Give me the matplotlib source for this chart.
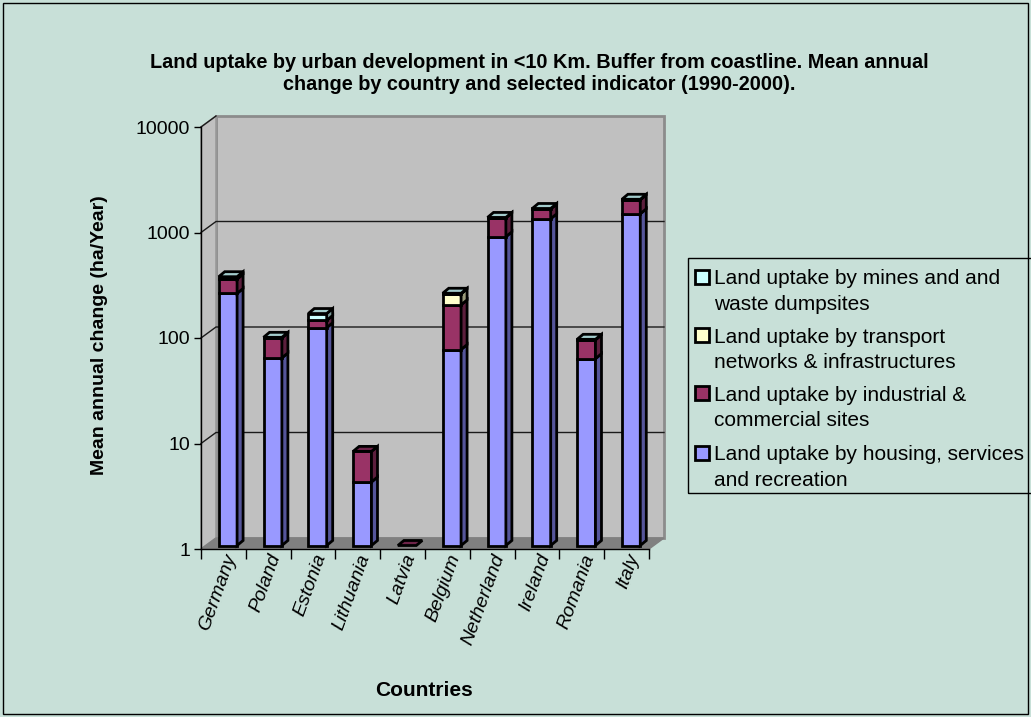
import numpy as np
import matplotlib
matplotlib.use("Agg")
import matplotlib.pyplot as plt
from matplotlib.patches import Polygon, Rectangle
from matplotlib.transforms import IdentityTransform

plt.rcParams['font.family'] = ['Liberation Sans', 'DejaVu Sans']

countries = ["Germany", "Poland", "Estonia", "Lithuania", "Latvia",
             "Belgium", "Netherland", "Ireland", "Romania", "Italy"]
housing = [245, 60, 116, 4, 0, 72, 844, 1250, 59, 1393]
industrial = [90, 33, 20, 3.8, 1, 119, 433, 300, 30, 500]
transport = [0, 0, 0, 0, 0, 52, 0, 0, 0, 0]
mines = [18, 1, 22, 0, 0, 3, 10, 15, 1, 20]

series_lines = [["Land uptake by housing, services", "and recreation"],
                ["Land uptake by industrial &", "commercial sites"],
                ["Land uptake by transport", "networks & infrastructures"],
                ["Land uptake by mines and and", "waste dumpsites"]]
face_cols = ['#9999FF', '#993366', '#FFFFCC', '#CCFFFF']
side_cols = ['#55559A', '#5C1F3D', '#9A9A7A', '#7A9A9A']
top_cols = ['#7A7ACC', '#6E2449', '#CCCCA3', '#A3CCCC']

y_ticks = [1, 10, 100, 1000, 10000]
y_labels = ["1", "10", "100", "1000", "10000"]

W, H = 1031, 717
BG = '#C8E0D8'
fig = plt.figure(figsize=(W / 100, H / 100), dpi=100, facecolor=BG)

# front plane of the plot area (pixels from top-left)
x0, x1 = 201, 649
yb, yt = 549, 127
ax = fig.add_axes([x0 / W, 1 - yb / H, (x1 - x0) / W, (yb - yt) / H])
ax.set_facecolor('none')
ax.set_yscale('log')
ax.set_ylim(1, 10000)
ax.set_xlim(0, len(countries))

# depth of the walls and of the bars (display pixels, y up)
wall_d = np.array([15.0, 11.0])
bar_shift = np.array([4.5, 3.5])
bar_d = np.array([6.0, 5.0])
bar_w = 0.41
edge_lw = 2.0

ident = IdentityTransform()


def disp(x, y):
    return ax.transData.transform((x, y))


def poly(pts, fc, ec, lw, z):
    ax.add_patch(Polygon(pts, closed=True, facecolor=fc, edgecolor=ec,
                         linewidth=lw, transform=ident, clip_on=False,
                         zorder=z, joinstyle='miter'))


n = len(countries)
# back wall
bl = disp(0, 1) + wall_d
br = disp(n, 1) + wall_d
tl = disp(0, 10000) + wall_d
tr = disp(n, 10000) + wall_d
poly([bl, br, tr, tl], '#C0C0C0', '#8C8C8C', 2.0, 0.5)
# left wall
fl = disp(0, 1)
ftl = disp(0, 10000)
poly([fl, bl, tl, ftl], '#C0C0C0', '#9A9A9A', 1.2, 0.6)
# floor
fr = disp(n, 1)
poly([fl, fr, br, bl], '#808080', '#808080', 1.0, 0.7)

# gridlines on the back wall and diagonals on the left wall
for v in y_ticks[1:-1]:
    a = disp(0, v)
    b = a + wall_d
    c = disp(n, v) + wall_d
    ax.add_line(plt.Line2D([a[0], b[0], c[0]], [a[1], b[1], c[1]],
                           color='#1A1A1A', lw=1.0, transform=ident,
                           clip_on=False, zorder=0.8))
a = disp(0, 10000)
ax.add_line(plt.Line2D([a[0], a[0] + wall_d[0]], [a[1], a[1] + wall_d[1]],
                       color='#1A1A1A', lw=1.0, transform=ident,
                       clip_on=False, zorder=0.8))

# stacked 3-D columns
stack = [housing, industrial, transport, mines]
for i in range(n):
    xl = i + 0.5 - bar_w / 2
    xr = i + 0.5 + bar_w / 2
    segs = []
    base = 0.0
    for k, vals in enumerate(stack):
        v = vals[i]
        if v <= 0:
            continue
        lo = max(base, 1.0)
        base += v
        hi = max(base, 1.0)
        segs.append((k, lo, hi))
    for k, lo, hi in segs:
        p0 = disp(xl, lo) + bar_shift
        p1 = disp(xr, lo) + bar_shift
        p2 = disp(xr, hi) + bar_shift
        p3 = disp(xl, hi) + bar_shift
        if hi > lo:
            poly([p0, p1, p2, p3], face_cols[k], 'black', edge_lw, 3)
            poly([p1, p1 + bar_d, p2 + bar_d, p2], side_cols[k], 'black',
                 edge_lw, 3)
    if segs:
        k, lo, hi = segs[-1]
        p2 = disp(xr, hi) + bar_shift
        p3 = disp(xl, hi) + bar_shift
        poly([p3, p2, p2 + bar_d, p3 + bar_d], top_cols[k], 'black',
             edge_lw, 3.1)

# axes styling
for s in ['top', 'right']:
    ax.spines[s].set_visible(False)
ax.spines['left'].set_linewidth(1.0)
ax.spines['bottom'].set_linewidth(1.0)
ax.set_yticks(y_ticks)
ax.set_yticklabels(y_labels, fontsize=14)
ax.yaxis.set_minor_locator(matplotlib.ticker.NullLocator())
ax.tick_params(axis='y', direction='out', length=5, width=1, pad=3)
ax.set_xticks(np.arange(n + 1), minor=True)
ax.set_xticks(np.arange(n) + 0.5)
ax.set_xticklabels(countries, fontsize=14, style='italic', rotation=70,
                   ha='right', va='top', rotation_mode='anchor')
ax.tick_params(axis='x', which='major', length=0, pad=2)
ax.tick_params(axis='x', which='minor', direction='out', length=7, width=1)

# titles
fig.text(539 / W, 1 - 62 / H,
         "Land uptake by urban development in <10 Km. Buffer from coastline. Mean annual",
         ha='center', va='center', fontsize=14.3, fontweight='bold')
fig.text(539 / W, 1 - 85 / H,
         "change by country and selected indicator (1990-2000).",
         ha='center', va='center', fontsize=14.3, fontweight='bold')
fig.text(100 / W, 1 - 335 / H, "Mean annual change (ha/Year)", rotation=90,
         ha='center', va='center', fontsize=14, fontweight='bold')
fig.text(424 / W, 1 - 690 / H, "Countries", ha='center', va='center',
         fontsize=15, fontweight='bold')

# legend box
fig.add_artist(Rectangle((688 / W, 1 - 493 / H), 400 / W, (493 - 258) / H,
                         transform=fig.transFigure, facecolor='none',
                         edgecolor='black', linewidth=1.0))
entry_y = [277, 335, 393, 453]
for j, k in enumerate([3, 2, 1, 0]):
    yc = entry_y[j]
    fig.add_artist(Rectangle((695 / W, 1 - (yc + 7) / H), 14 / W, 14 / H,
                             transform=fig.transFigure, facecolor=face_cols[k],
                             edgecolor='black', linewidth=2.0))
    for m, line in enumerate(series_lines[k]):
        fig.text(714 / W, 1 - (yc + 25 * m) / H, line, ha='left',
                 va='center_baseline', fontsize=15)

# outer chart border
fig.add_artist(Rectangle((3 / W, 3 / H), 1025 / W, 711 / H,
                         transform=fig.transFigure, facecolor='none',
                         edgecolor='black', linewidth=1.0))

fig.savefig('out.png', dpi=100, facecolor=BG)
